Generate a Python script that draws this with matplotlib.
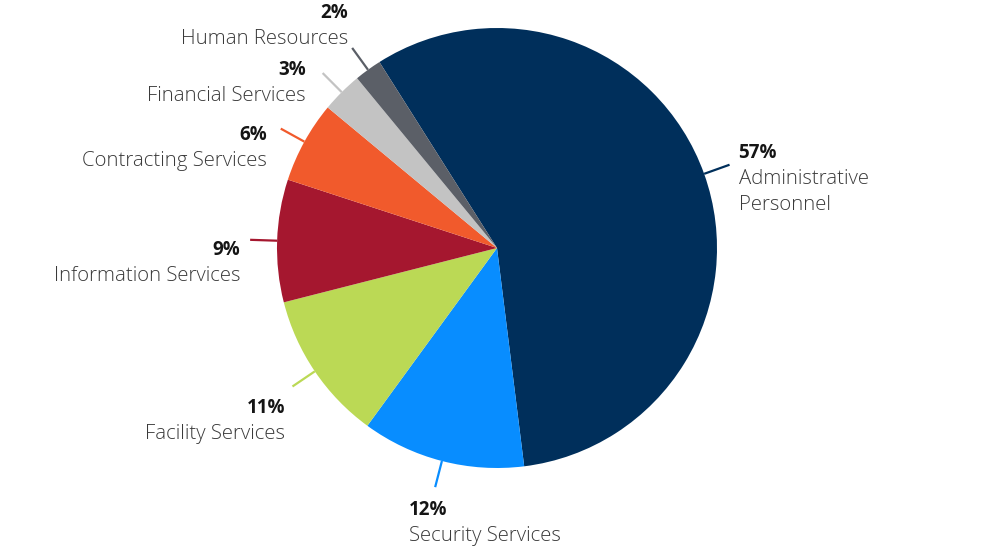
import numpy as np
import matplotlib.pyplot as plt

# Share of staff by service area (%)
categories = ['Administrative\nPersonnel', 'Security Services', 'Facility Services',
              'Information Services', 'Contracting Services', 'Financial Services',
              'Human Resources']
shares = [57, 12, 11, 9, 6, 3, 2]
colors = ['#002F5B', '#088DFF', '#BBD955', '#A5172F', '#F15A2C', '#C3C3C3', '#5B5F67']

# label offsets from the leader line end (px, x right / y up) and alignment
offsets = [(9, 13, 'left'), (-26, -21, 'left'), (-7, -20, 'right'), (-10, -9, 'right'),
           (-14, -5, 'right'), (-17, 5, 'right'), (-4, 36, 'right')]

plt.rcParams['font.family'] = ['Open Sans', 'DejaVu Sans']

fig = plt.figure(figsize=(10, 5.53), dpi=100)
ax = fig.add_axes([0, 0, 1, 1])

cx, cy, r = 497, 305, 220
wedges, _ = ax.pie(shares, colors=colors, startangle=122.3, counterclock=False,
                   center=(cx, cy), radius=r)
ax.set_xlim(0, 1000)
ax.set_ylim(0, 553)
ax.set_aspect('equal')
ax.axis('off')

for w, name, val, col, (dx, dy, ha) in zip(wedges, categories, shares, colors, offsets):
    t = np.deg2rad((w.theta1 + w.theta2) / 2)
    x0, y0 = cx + r * np.cos(t), cy + r * np.sin(t)
    x1, y1 = cx + (r + 27) * np.cos(t), cy + (r + 27) * np.sin(t)
    ax.plot([x0, x1], [y0, y1], color=col, lw=1.6, solid_capstyle='butt')
    tx, base = x1 + dx, y1 + dy - 6.5
    ax.text(tx, base, f'{val}%', ha=ha, va='baseline', fontsize=13.5,
            fontweight='bold', color='#151515')
    for i, line in enumerate(name.split('\n')):
        ax.text(tx, base - 26 * (i + 1), line, ha=ha, va='baseline', fontsize=14.7,
                fontweight=300, color='#3a3a3a')

fig.savefig('out.png', dpi=100)
